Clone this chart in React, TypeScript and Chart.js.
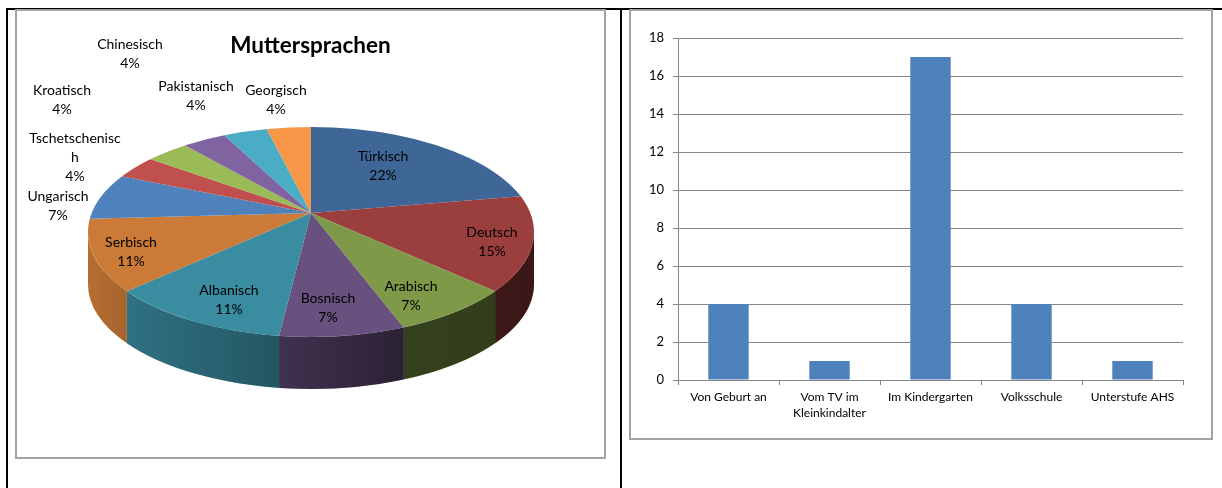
import React, { useEffect, useRef } from "react";
import { Chart, registerables } from "chart.js";

Chart.register(...registerables);

// ---------- data ----------
const languages = [
  "Türkisch", "Deutsch", "Arabisch", "Bosnisch", "Albanisch", "Serbisch",
  "Ungarisch", "Tschetschenisch", "Kroatisch", "Chinesisch", "Pakistanisch", "Georgisch",
];
const speakers = [6, 4, 2, 2, 3, 3, 2, 1, 1, 1, 1, 1];
const pieTitle = "Muttersprachen";

const stages = [
  ["Von Geburt an"],
  ["Vom TV im", "Kleinkindalter"],
  ["Im Kindergarten"],
  ["Volksschule"],
  ["Unterstufe AHS"],
];
const learners = [4, 1, 17, 4, 1];
const yMax = 18;
const yStep = 2;

// ---------- styles / layout ----------
const FONT = "Lato, 'Open Sans', sans-serif";
const sliceColors = [
  "#3E6797", "#9A3F3D", "#7E9A48", "#68507F", "#3A8CA1", "#CB7A38",
  "#4F81BD", "#C0504D", "#9BBB59", "#8064A2", "#4BACC6", "#F79646",
];
const PIE_CANVAS = { left: 17, top: 11, width: 587, height: 446 };
const BAR_CANVAS = { left: 631, top: 11, width: 580, height: 427 };
const PIE_CX = 311 - PIE_CANVAS.left; // ellipse centre
const PIE_CY = 232 - PIE_CANVAS.top;
const APEX_Y = 213 - PIE_CANVAS.top; // where the slices meet (perspective)
const PIE_R = 223;
const PIE_RY = 105;
const APEX_TILT = 0.45;
const APEX_SCALE = 1.45;
const DEPTH = 52;
// label anchor (page coords: centre x, centre of first line y) per slice
const labelAnchors: [number, number][] = [
  [383, 156], [492, 232], [411, 286], [328, 298], [229, 290], [131, 242],
  [58, 196], [75, 138], [62, 90], [130, 44], [196, 86], [276, 90],
];
const wrapChars: Record<string, number> = { Tschetschenisch: 14 };
const LINE_H = 19;

// parametric ellipse angle where the slice edge at angle theta meets the rim
function rimAngle(theta: number, rx: number) {
  const dx = Math.cos(theta);
  const dy = APEX_TILT * Math.sin(theta);
  const o = APEX_Y - PIE_CY;
  const A = (dx * dx) / (rx * rx) + (dy * dy) / (PIE_RY * PIE_RY);
  const B = (2 * o * dy) / (PIE_RY * PIE_RY);
  const C = (o * o) / (PIE_RY * PIE_RY) - 1;
  const t = (-B + Math.sqrt(B * B - 4 * A * C)) / (2 * A);
  return Math.atan2((o + t * dy) / PIE_RY, (t * dx) / rx);
}

function PieChart() {
  const ref = useRef<HTMLCanvasElement | null>(null);
  useEffect(() => {
    const canvas = ref.current!;
    const total = speakers.reduce((a, b) => a + b, 0);
    let saved = false;
    const pie3d = {
      id: "pie3d",
      beforeDatasetsDraw(chart: any) {
        const arcs = chart.getDatasetMeta(0).data as any[];
        if (!arcs.length) return;
        const ctx: CanvasRenderingContext2D = chart.ctx;
        const R = arcs[0].outerRadius;
        // rim angles of each slice (monotonic)
        let prev = -Infinity;
        const rims = arcs.map((arc) => {
          let p1 = rimAngle(arc.startAngle, R);
          while (p1 < prev - 1e-6) p1 += Math.PI * 2;
          let p2 = rimAngle(arc.endAngle, R);
          while (p2 < p1 - 1e-6) p2 += Math.PI * 2;
          prev = p2 - 1e-3;
          return [p1, p2];
        });
        // side walls (front half: parametric 0..PI, also 2PI..3PI)
        arcs.forEach((arc, i) => {
          const [p1, p2] = rims[i];
          for (const base of [0, Math.PI * 2]) {
            const a1 = Math.max(p1, base);
            const a2 = Math.min(p2, base + Math.PI);
            if (a2 <= a1) continue;
            ctx.beginPath();
            ctx.ellipse(PIE_CX, PIE_CY, R, PIE_RY, 0, a1, a2, false);
            ctx.ellipse(PIE_CX, PIE_CY + DEPTH, R, PIE_RY, 0, a2, a1, true);
            ctx.closePath();
            ctx.fillStyle = sliceColors[i];
            ctx.fill();
          }
        });
        // shading of the walls
        const g = ctx.createLinearGradient(PIE_CX - R, 0, PIE_CX + R, 0);
        g.addColorStop(0, "rgba(0,0,0,0.10)");
        g.addColorStop(0.1, "rgba(0,0,0,0.20)");
        g.addColorStop(0.44, "rgba(0,0,0,0.39)");
        g.addColorStop(0.7, "rgba(0,0,0,0.58)");
        g.addColorStop(1, "rgba(0,0,0,0.62)");
        ctx.beginPath();
        ctx.ellipse(PIE_CX, PIE_CY, R, PIE_RY, 0, 0, Math.PI, false);
        ctx.ellipse(PIE_CX, PIE_CY + DEPTH, R, PIE_RY, 0, Math.PI, 0, true);
        ctx.closePath();
        ctx.fillStyle = g;
        ctx.fill();
        // top face: clip to the rim, slices meet at the apex
        ctx.save();
        saved = true;
        ctx.beginPath();
        ctx.ellipse(PIE_CX, PIE_CY, R, PIE_RY, 0, 0, Math.PI * 2);
        ctx.clip();
        ctx.translate(PIE_CX, APEX_Y);
        ctx.scale(APEX_SCALE, APEX_SCALE * APEX_TILT);
        ctx.translate(-arcs[0].x, -arcs[0].y);
      },
      afterDatasetsDraw(chart: any) {
        const ctx: CanvasRenderingContext2D = chart.ctx;
        if (saved) {
          ctx.restore();
          saved = false;
        }
        ctx.save();
        ctx.font = `14px ${FONT}`;
        ctx.fillStyle = "#000";
        ctx.textAlign = "center";
        ctx.textBaseline = "middle";
        languages.forEach((name, i) => {
          const pct = Math.round((speakers[i] / total) * 100) + "%";
          const lines: string[] = [];
          const w = wrapChars[name];
          if (w) {
            for (let k = 0; k < name.length; k += w) lines.push(name.slice(k, k + w));
          } else lines.push(name);
          lines.push(pct);
          const [ax, ay] = labelAnchors[i];
          lines.forEach((t, j) => {
            ctx.fillText(t, ax - PIE_CANVAS.left, ay - PIE_CANVAS.top + j * LINE_H);
          });
        });
        ctx.restore();
      },
    };
    const chart = new Chart(canvas, {
      type: "pie",
      data: {
        labels: languages,
        datasets: [
          {
            data: speakers,
            backgroundColor: sliceColors,
            borderWidth: 0,
            radius: PIE_R,
            clip: false as any,
          } as any,
        ],
      },
      options: {
        animation: false,
        responsive: false,
        events: [],
        layout: { padding: 0 },
        plugins: {
          legend: { display: false },
          tooltip: { enabled: false },
          title: {
            display: true,
            text: pieTitle,
            color: "#000",
            font: { family: FONT, size: 22.5, weight: "bold", lineHeight: 1.2 },
            padding: { top: 21, bottom: 10 },
          },
        },
      },
      plugins: [pie3d],
    });
    return () => chart.destroy();
  }, []);
  return (
    <canvas
      ref={ref}
      width={PIE_CANVAS.width}
      height={PIE_CANVAS.height}
      style={{
        position: "absolute",
        left: PIE_CANVAS.left,
        top: PIE_CANVAS.top,
        width: PIE_CANVAS.width,
        height: PIE_CANVAS.height,
      }}
    />
  );
}

function BarChart() {
  const ref = useRef<HTMLCanvasElement | null>(null);
  useEffect(() => {
    const canvas = ref.current!;
    const GRID = "#868686";
    const chart = new Chart(canvas, {
      type: "bar",
      data: {
        labels: stages,
        datasets: [
          {
            data: learners,
            backgroundColor: "#4F81BD",
            borderWidth: 0,
            barPercentage: 0.4,
            categoryPercentage: 1,
          },
        ],
      },
      options: {
        animation: false,
        responsive: false,
        events: [],
        layout: { padding: { top: 27, right: 28, bottom: 0, left: 0 } },
        plugins: { legend: { display: false }, tooltip: { enabled: false } },
        scales: {
          x: {
            grid: { drawOnChartArea: false, drawTicks: true, tickLength: 5, color: GRID, offset: true },
            border: { display: true, color: GRID, width: 1 },
            ticks: {
              color: "#000",
              padding: 4,
              maxRotation: 0,
              autoSkip: false,
              font: { family: FONT, size: 12, lineHeight: 1.35 },
            },
            afterFit: (s: any) => {
              s.height = 58;
            },
          },
          y: {
            min: 0,
            max: yMax,
            ticks: {
              stepSize: yStep,
              color: "#000",
              padding: 9,
              font: { family: FONT, size: 13 },
            },
            grid: { color: GRID, tickLength: 5, drawTicks: true },
            border: { display: true, color: GRID, width: 1 },
            afterFit: (s: any) => {
              s.width = 47;
            },
          },
        },
      },
    });
    return () => chart.destroy();
  }, []);
  return (
    <canvas
      ref={ref}
      width={BAR_CANVAS.width}
      height={BAR_CANVAS.height}
      style={{
        position: "absolute",
        left: BAR_CANVAS.left,
        top: BAR_CANVAS.top,
        width: BAR_CANVAS.width,
        height: BAR_CANVAS.height,
      }}
    />
  );
}

export default function App() {
  const line = (left: number, top: number, width: number, height: number) => (
    <div style={{ position: "absolute", left, top, width, height, background: "#000" }} />
  );
  const box = (left: number, top: number, width: number, height: number) => (
    <div
      style={{
        position: "absolute",
        left,
        top,
        width,
        height,
        boxSizing: "border-box",
        border: "2px solid #A3A3A3",
        background: "#fff",
      }}
    />
  );
  return (
    <div style={{ position: "absolute", left: 0, top: 0, width: 1222, height: 488, background: "#fff", overflow: "hidden" }}>
      {line(6, 8, 1216, 2)}
      {line(6, 8, 2, 480)}
      {line(620, 8, 2, 480)}
      {box(15, 9, 591, 450)}
      {box(629, 9, 584, 431)}
      <PieChart />
      <BarChart />
    </div>
  );
}
